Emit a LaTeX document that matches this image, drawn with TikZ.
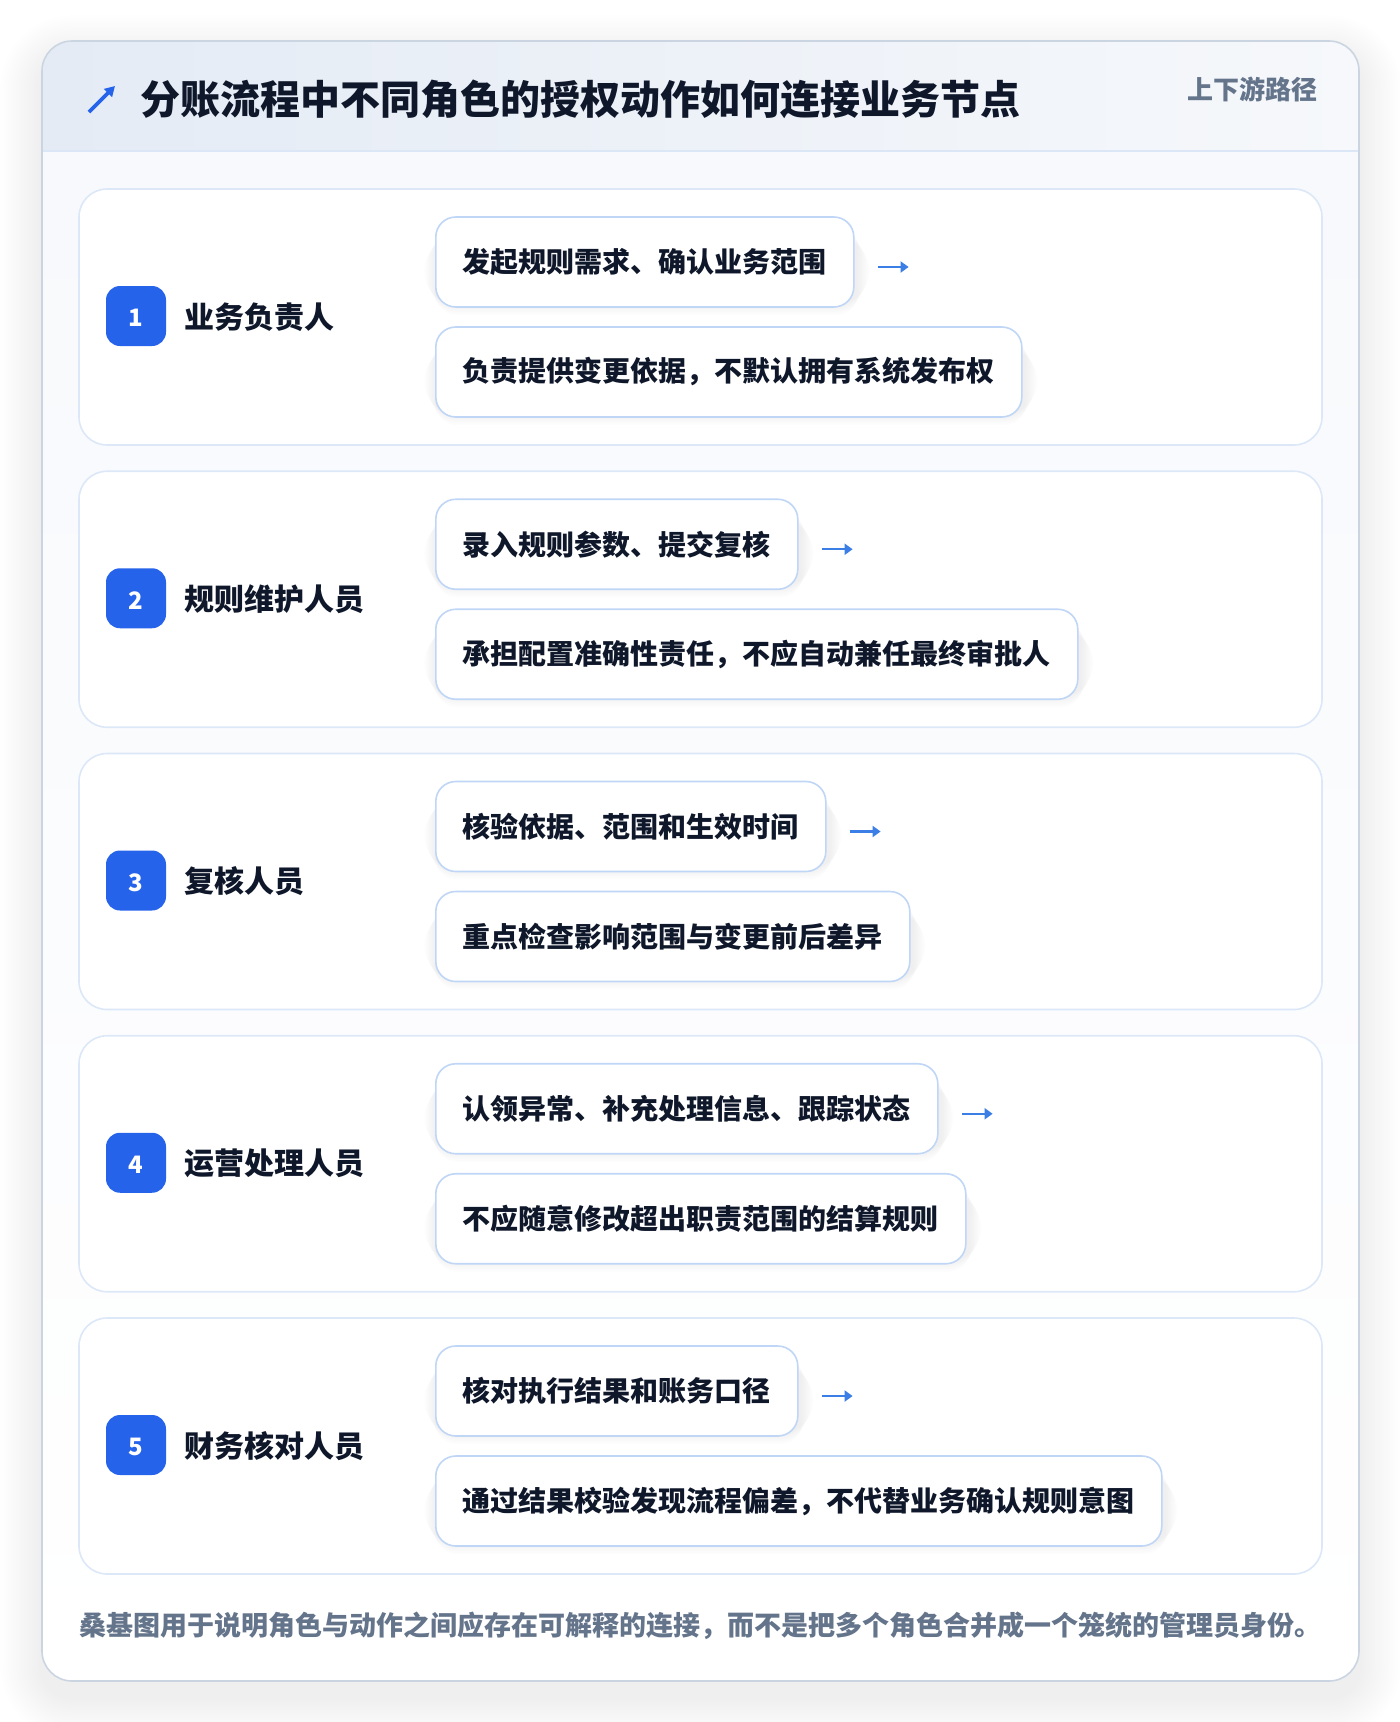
\documentclass[tikz,border=0pt]{standalone}
\usepackage{fontspec}
\setmainfont{Noto Sans CJK SC}
\usetikzlibrary{arrows.meta}
\pgfdeclarelayer{back}
\pgfdeclarelayer{shad}
\pgfsetlayers{back,shad,main}
\definecolor{ink}{HTML}{0F172A}
\definecolor{muted}{HTML}{64748B}
\definecolor{brand}{HTML}{2563EB}
\definecolor{arrowc}{HTML}{3B7FE6}
\definecolor{cardline}{HTML}{CBD5E1}
\definecolor{rowline}{HTML}{DCE8F8}
\definecolor{boxline}{HTML}{BFD6F6}
\definecolor{headl}{HTML}{E4EBF5}
\definecolor{headr}{HTML}{F6F8FB}
\definecolor{headline}{HTML}{DBE7F7}
\definecolor{bodytop}{HTML}{F7F9FC}
\definecolor{shadowc}{HTML}{1E293B}
\tikzset{
  rowcard/.style={draw=rowline, line width=1.6pt, fill=white, rounded corners=28pt},
  badgebox/.style={fill=brand, rounded corners=14pt, minimum width=60pt, minimum height=60pt, inner sep=0pt},
  badgenum/.style={inner sep=0pt, text=white, font=\bfseries\fontsize{24}{28}\selectfont},
  rolelabel/.style={anchor=west, inner sep=0pt, text=ink, font=\bfseries\fontsize{30}{36}\selectfont},
  actbox/.style={anchor=west, draw=boxline, line width=1.6pt, fill=white, rounded corners=20pt,
    minimum height=90pt, inner xsep=27pt, inner ysep=0pt, text=ink, font=\bfseries\fontsize{28}{34}\selectfont},
  flowarrow/.style={draw=arrowc, line width=2.4pt, -{Triangle[length=8pt,width=11pt]}},
  shadlayer/.style={fill=shadowc, opacity=#1},
}
\newcommand{\boxshadow}[1]{%
  \begin{pgfonlayer}{shad}
  \foreach \k in {1,...,8}{
    \pgfmathsetmacro{\rr}{20+1.6*\k}
    \fill[shadlayer=0.009, rounded corners=\rr pt]
      ([xshift=-1.6*\k pt+2pt, yshift=1.6*\k pt-9pt]#1.south west) rectangle ([xshift=1.6*\k pt+2pt, yshift=-1.6*\k pt-9pt]#1.north east);
  }
  \end{pgfonlayer}}
\begin{document}
\begin{tikzpicture}[x=1pt,y=-1pt]
\useasboundingbox (0,0) rectangle (1400,1722);
\begin{pgfonlayer}{back}
\fill[white] (0,0) rectangle (1400,1722);
% outer card shadow
\foreach \k in {1,...,16}{
  \pgfmathsetmacro{\rr}{30+2.6*\k}
  \fill[shadlayer=0.0045, rounded corners=\rr pt] (42-2.6*\k,41-2.6*\k+16) rectangle (1359+2.6*\k,1681+2.6*\k+16);
}
\fill[white, rounded corners=30pt] (42,41) rectangle (1359,1681);
\begin{scope}
  \clip[rounded corners=30pt] (42,41) rectangle (1359,1681);
  \shade[top color=bodytop, bottom color=white] (42,151) rectangle (1359,1681);
  \shade[left color=headl, right color=headr] (42,41) rectangle (1359,151);
  \draw[headline, line width=2pt] (42,151) -- (1359,151);
\end{scope}
\draw[cardline, line width=1.6pt, rounded corners=30pt] (42,41) rectangle (1359,1681);
\foreach \i in {1,...,5}{
  \pgfmathsetmacro{\t}{189+282.25*(\i-1)}
  \path[rowcard] (79,\t) rectangle (1322,\t+256);
}
\end{pgfonlayer}
% header
\coordinate (ics) at (89,112);
\coordinate (ice) at (115,86);
\draw[brand, line width=3.6pt, -{Triangle[length=10pt,width=11pt]}] (ics) -- (ice);
\node[anchor=west, inner sep=0pt, text=ink, font=\bfseries\fontsize{40}{48}\selectfont] (title) at (140,99) {分账流程中不同角色的授权动作如何连接业务节点};
\node[anchor=east, inner sep=0pt, text=muted, font=\bfseries\fontsize{26}{30}\selectfont] (tag) at (1318,89) {上下游路径};
% rows
\foreach \i/\r/\a/\b in {
  1/业务负责人/发起规则需求、确认业务范围/负责提供变更依据，不默认拥有系统发布权,
  2/规则维护人员/录入规则参数、提交复核/承担配置准确性责任，不应自动兼任最终审批人,
  3/复核人员/核验依据、范围和生效时间/重点检查影响范围与变更前后差异,
  4/运营处理人员/认领异常、补充处理信息、跟踪状态/不应随意修改超出职责范围的结算规则,
  5/财务核对人员/核对执行结果和账务口径/通过结果校验发现流程偏差，不代替业务确认规则意图}{
  \pgfmathsetmacro{\t}{189+282.25*(\i-1)}
  \coordinate (row\i) at (79,\t);
  \node[badgebox] (badge\i) at (136,\t+127) {};
  \node[badgenum] (num\i) at (136,\t+129) {\i};
  \node[rolelabel] (role\i) at (184,\t+128) {\r};
  \node[actbox] (acta\i) at (435,\t+73) {\a};
  \node[actbox] (actb\i) at (435,\t+183) {\b};
  \boxshadow{acta\i}
  \boxshadow{actb\i}
  \coordinate (arrs\i) at ([xshift=23pt,yshift=-5pt]acta\i.east);
  \coordinate (arre\i) at ([xshift=54pt,yshift=-5pt]acta\i.east);
  \draw[flowarrow] (arrs\i) -- (arre\i);
}
% footer
\node[anchor=west, inner sep=0pt, text=muted, font=\bfseries\fontsize{27}{32}\selectfont] (foot) at (79,1626) {桑基图用于说明角色与动作之间应存在可解释的连接，而不是把多个角色合并成一个笼统的管理员身份。};
\end{tikzpicture}
\end{document}
